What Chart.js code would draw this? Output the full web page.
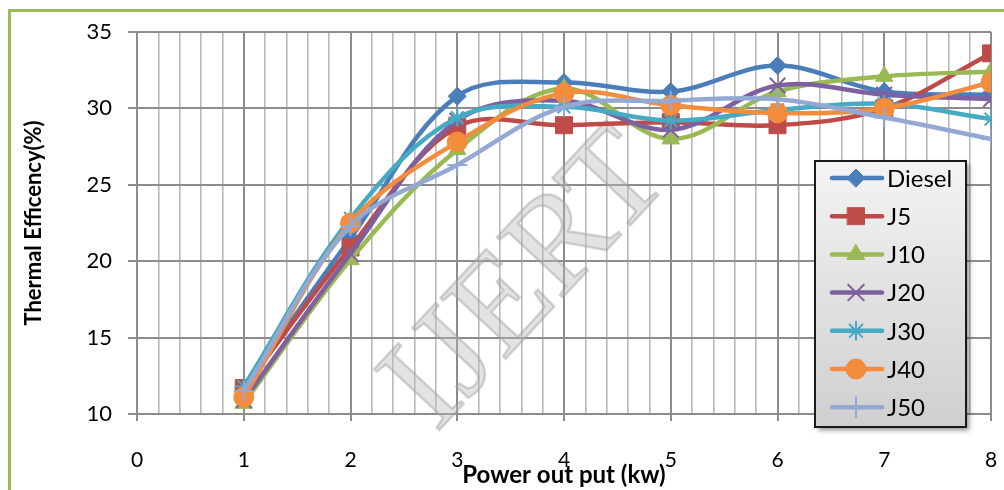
<!DOCTYPE html>
<html>
<head>
<meta charset="utf-8">
<script src="https://cdn.jsdelivr.net/npm/chart.js@4.4.0/dist/chart.umd.min.js"></script>
<style>
  body { margin: 0; background: #fff; }
  #wrap { position: relative; width: 1004px; height: 490px; overflow: hidden; }
  #frame { position: absolute; left: 8px; top: 9px; right: -10px; bottom: -10px;
           border-left: 3px solid #9bbb59; border-top: 3px solid #9bbb59; }
  canvas { position: absolute; left: 0; top: 0; }
</style>
</head>
<body>
<div id="wrap">
  <div id="frame"></div>
  <canvas id="effChart" width="1004" height="490"></canvas>
</div>
<script>
// power output (kW)
const power = [1, 2, 3, 4, 5, 6, 7, 8];

// thermal efficiency (%) per fuel blend
const diesel = [11.7, 21.5, 30.8, 31.7, 31.1, 32.8, 31.1, 30.9];
const j5     = [11.7, 20.9, 28.8, 28.9, 29.1, 28.9, 30.0, 33.6];
const j10    = [10.7, 20.1, 27.3, 31.3, 28.0, 31.1, 32.1, 32.4];
const j20    = [10.9, 20.5, 29.2, 30.5, 28.6, 31.5, 30.9, 30.6];
const j30    = [11.8, 22.8, 29.4, 30.1, 29.2, 29.9, 30.3, 29.3];
const j40    = [11.1, 22.5, 27.8, 31.0, 30.2, 29.7, 30.0, 31.7];
const j50    = [11.5, 22.3, 26.3, 30.1, 30.5, 30.6, 29.4, 28.0];

const seriesNames = ['Diesel', 'J5', 'J10', 'J20', 'J30', 'J40', 'J50'];
const seriesData = [diesel, j5, j10, j20, j30, j40, j50];

// Excel 2007 palette and markers
const colors = ['#4a7ebb', '#be4b48', '#98b954', '#7d60a0', '#46aac5', '#f38c3c', '#93a9d4'];
const markers = ['rectRot', 'rect', 'triangle', 'crossRot', 'star', 'circle', 'cross'];
const markerSize = [9, 12, 10, 11, 9, 10, 10];

const yTicks = [10, 15, 20, 25, 30, 35];

function isWhole(v) {
    return Math.abs(v - Math.round(v)) < 1e-6;
}

// watermark behind the lines
const watermark = {
    id: 'watermark',
    beforeDatasetsDraw(chart) {
        const ctx = chart.ctx;
        const a = chart.chartArea;
        ctx.save();
        ctx.translate(a.left + (a.right - a.left) * 0.458, a.top + (a.bottom - a.top) * 0.655);
        ctx.rotate(-47 * Math.PI / 180);
        ctx.font = '136px "Liberation Serif", serif';
        ctx.textAlign = 'center';
        ctx.textBaseline = 'middle';
        ctx.fillStyle = 'rgba(185,185,185,0.4)';
        ctx.fillText('IJERT', 0, 0);
        ctx.lineWidth = 2.5;
        ctx.strokeStyle = 'rgba(160,160,160,0.45)';
        ctx.strokeText('IJERT', 0, 0);
        ctx.restore();
    }
};

// boxed legend inside the plot, like Excel
const boxLegend = {
    id: 'boxLegend',
    afterDraw(chart) {
        const ctx = chart.ctx;
        const a = chart.chartArea;
        const x = a.right - 176, y = a.top + 129, w = 151, h = 266;
        ctx.save();
        ctx.shadowColor = 'rgba(0,0,0,0.45)';
        ctx.shadowBlur = 5;
        ctx.shadowOffsetX = 3;
        ctx.shadowOffsetY = 3;
        const g = ctx.createLinearGradient(0, y, 0, y + h);
        g.addColorStop(0, '#f4f4f4');
        g.addColorStop(1, '#cfcfcf');
        ctx.fillStyle = g;
        ctx.fillRect(x, y, w, h);
        ctx.restore();
        ctx.save();
        ctx.lineWidth = 2;
        ctx.strokeStyle = '#1a1a1a';
        ctx.strokeRect(x, y, w, h);

        chart.data.datasets.forEach((ds, i) => {
            const ry = y + 17 + i * 38.2;
            ctx.strokeStyle = ds.borderColor;
            ctx.lineWidth = 4.5;
            ctx.lineCap = 'round';
            ctx.beginPath();
            ctx.moveTo(x + 17, ry);
            ctx.lineTo(x + 67, ry);
            ctx.stroke();
            ctx.fillStyle = ds.pointBackgroundColor;
            ctx.strokeStyle = ds.pointBorderColor;
            ctx.lineWidth = ds.pointBorderWidth;
            Chart.helpers.drawPoint(ctx, {
                pointStyle: ds.pointStyle,
                radius: ds.pointRadius,
                borderWidth: ds.pointBorderWidth,
                rotation: 0
            }, x + 41, ry);
            ctx.fillStyle = '#000';
            ctx.font = '24px Lato';
            ctx.textAlign = 'left';
            ctx.textBaseline = 'middle';
            ctx.fillText(ds.label, x + 72, ry + 1);
        });
        ctx.restore();
    }
};

const datasets = seriesNames.map((name, i) => {
    const thin = ['crossRot', 'star', 'cross'].includes(markers[i]);
    return {
        label: name,
        data: power.map((p, k) => ({ x: p, y: seriesData[i][k] })),
        borderColor: colors[i],
        backgroundColor: colors[i],
        borderWidth: 4.5,
        tension: 0.35,
        pointStyle: markers[i],
        pointRadius: markerSize[i],
        pointBackgroundColor: colors[i],
        pointBorderColor: colors[i],
        pointBorderWidth: thin ? 2 : 1,
        order: seriesNames.length - i
    };
});

const ctx = document.getElementById('effChart').getContext('2d');
const chart = new Chart(ctx, {
    type: 'line',
    data: { datasets: datasets },
    options: {
        responsive: false,
        animation: false,
        layout: { padding: { left: 0, top: 32, right: 12, bottom: 0 } },
        plugins: {
            legend: { display: false },
            tooltip: { enabled: false }
        },
        scales: {
            x: {
                type: 'linear',
                min: 0,
                max: 8,
                afterFit: (scale) => {
                    scale.height = 76;
                    scale.paddingLeft = 0;
                    scale.paddingRight = 0;
                },
                ticks: {
                    stepSize: 0.2,
                    autoSkip: false,
                    maxRotation: 0,
                    padding: 27,
                    color: '#000',
                    font: { family: 'Lato', size: 21 },
                    callback: (v) => isWhole(v) ? String(Math.round(v)) : ''
                },
                grid: {
                    tickLength: 7,
                    lineWidth: (c) => isWhole(c.tick.value) ? 2 : 1.6,
                    color: (c) => isWhole(c.tick.value) ? '#8c8c8c' : '#b9b9b9',
                    tickColor: (c) => isWhole(c.tick.value) ? '#8c8c8c' : 'rgba(0,0,0,0)'
                },
                border: { color: '#8c8c8c', width: 2 },
                title: {
                    display: true,
                    text: 'Power out put (kw)',
                    color: '#000',
                    font: { family: 'Lato', size: 24, weight: 'bold' },
                    padding: { top: 0, bottom: 0 }
                }
            },
            y: {
                min: yTicks[0],
                max: yTicks[yTicks.length - 1],
                afterFit: (scale) => { scale.width = 137; },
                afterBuildTicks: (scale) => { scale.ticks = yTicks.map(v => ({ value: v })); },
                ticks: {
                    padding: 16,
                    color: '#000',
                    font: { family: 'Lato', size: 22 }
                },
                grid: {
                    tickLength: 9,
                    lineWidth: 2,
                    color: '#8c8c8c'
                },
                border: { color: '#8c8c8c', width: 2 },
                title: {
                    display: true,
                    text: 'Thermal Efficency(%)',
                    color: '#000',
                    font: { family: 'Lato', size: 22, weight: 'bold' },
                    padding: { top: 21, bottom: 0 }
                }
            }
        }
    },
    plugins: [watermark, boxLegend]
});
</script>
</body>
</html>
